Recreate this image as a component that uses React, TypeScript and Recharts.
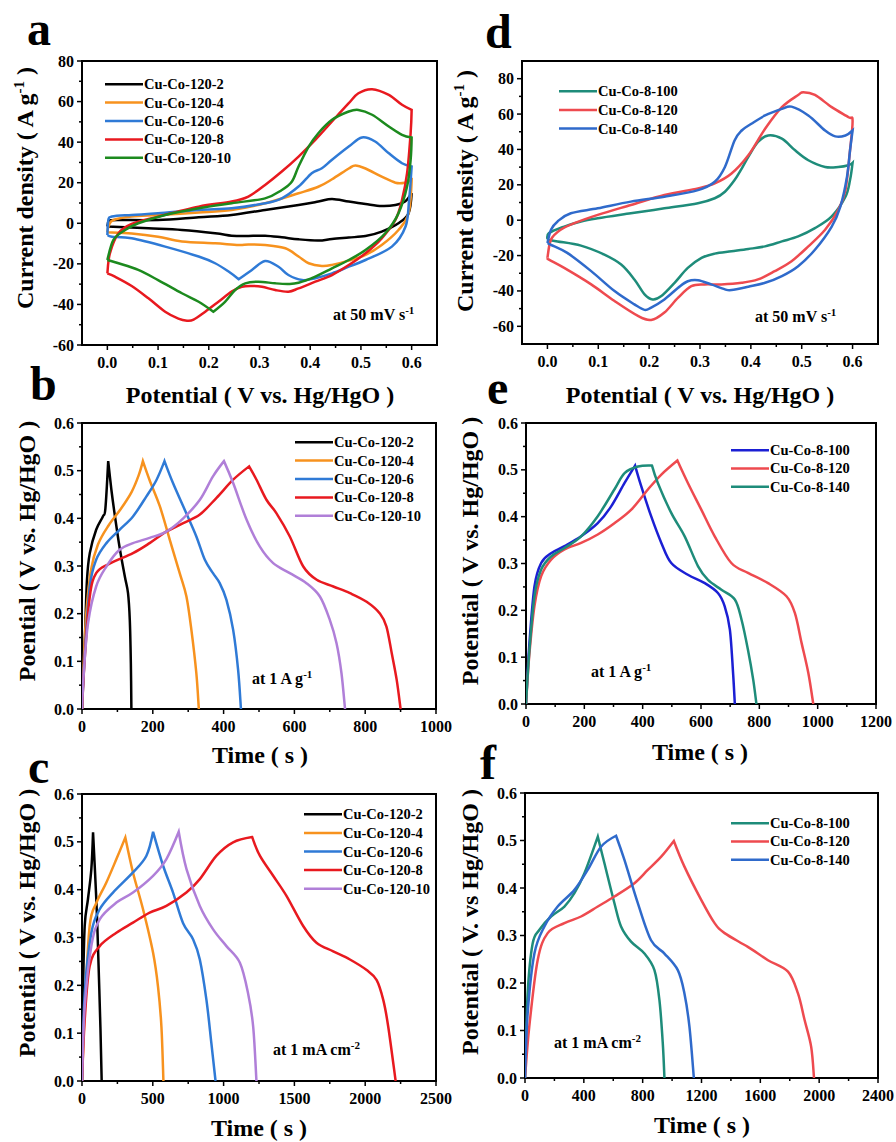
import React from 'react';
import { LineChart, Line, XAxis, YAxis, Legend, ReferenceArea } from 'recharts';

type Pt = [number, number];

// ---------- (a) CV of Cu-Co-120 samples at 50 mV s-1 (x: V, y: A g-1) ----------
const cv120_2: Pt[] = [
  [0, -1.6], [0.002, 1.2], [0.02, 1.6], [0.1, 1.6], [0.18, 3], [0.245, 4.1], [0.311, 6.6], [0.377, 9],
  [0.416, 10.7], [0.443, 12], [0.476, 10.7], [0.509, 9.5], [0.541, 8.5], [0.568, 9], [0.587, 10.7], [0.6, 14.8],
  [0.594, 5], [0.574, 0], [0.541, -4.1], [0.509, -6.3], [0.476, -7], [0.443, -7.7], [0.416, -8.5], [0.377, -7.9],
  [0.344, -6.9], [0.311, -6.1], [0.272, -6.3], [0.245, -6.1], [0.2125, -4.9], [0.147, -3.3], [0.081, -2.5], [0, -1.6],
];
const cv120_4: Pt[] = [
  [0, -4.4], [0.003, -1], [0.012, 1.6], [0.048, 3.3], [0.1, 4.1], [0.18, 5.3], [0.245, 6.6], [0.311, 9.9],
  [0.377, 14.8], [0.416, 18], [0.443, 21.7], [0.476, 27], [0.489, 28.5], [0.509, 27], [0.541, 23], [0.568, 20],
  [0.587, 20], [0.6, 21.4], [0.594, 5], [0.574, -3.3], [0.541, -10.7], [0.509, -15.6], [0.476, -18.4], [0.443, -20.5],
  [0.423, -21], [0.397, -19.7], [0.377, -16.4], [0.351, -12.3], [0.311, -10.7], [0.278, -10.4], [0.259, -10.7],
  [0.2125, -9.9], [0.147, -9], [0.1, -6.6], [0.048, -5], [0, -4.4],
];
const cv120_6: Pt[] = [
  [0, -5.8], [0.002, 1.6], [0.009, 3.3], [0.048, 4.1], [0.1, 4.9], [0.18, 6.6], [0.245, 7.4], [0.311, 9.9],
  [0.344, 12.3], [0.377, 18.1], [0.403, 24.7], [0.423, 27.1], [0.443, 31.3], [0.476, 37.8], [0.502, 42.3],
  [0.528, 40.3], [0.555, 34.5], [0.581, 29.6], [0.6, 28], [0.595, 11.5], [0.588, -1.6], [0.561, -11.5],
  [0.509, -18.1], [0.476, -21.4], [0.443, -24.7], [0.41, -27.1], [0.384, -28], [0.357, -25.5], [0.3375, -21.4],
  [0.311, -18.6], [0.285, -23], [0.259, -27.6], [0.239, -23.8], [0.2125, -19.7], [0.18, -16.4], [0.114, -11.5],
  [0.048, -7.4], [0.009, -6.6], [0, -5.8],
];
const cv120_8: Pt[] = [
  [0, -24.7], [0.005, -14.8], [0.022, -4.9], [0.048, -0.3], [0.1, 3.3], [0.18, 8.2], [0.245, 10.7], [0.278, 13.2],
  [0.311, 18.9], [0.344, 25.5], [0.377, 32.9], [0.41, 41.1], [0.443, 50.2], [0.476, 59.2], [0.495, 64.1],
  [0.522, 66.1], [0.555, 63.3], [0.581, 58.4], [0.6, 55.9], [0.598, 44.4], [0.591, 24.7], [0.581, 11.5],
  [0.568, 1.6], [0.541, -7.4], [0.509, -14.8], [0.476, -20.6], [0.443, -25.5], [0.41, -28.8], [0.377, -32.1],
  [0.357, -33.7], [0.331, -32.9], [0.305, -31.3], [0.285, -30.9], [0.265, -31.3], [0.245, -33.7], [0.219, -38.7],
  [0.193, -43.6], [0.17, -47.5], [0.157, -48], [0.14, -47], [0.114, -43.6], [0.081, -37], [0.048, -30.9],
  [0.015, -26.3], [0, -24.7],
];
const cv120_10: Pt[] = [
  [0, -18.1], [0.012, -8.2], [0.035, -3.3], [0.061, 0], [0.114, 4.1], [0.18, 7.4], [0.245, 9.9], [0.311, 12.3],
  [0.344, 16.4], [0.364, 20.6], [0.377, 28], [0.397, 37.8], [0.416, 44.4], [0.443, 51], [0.476, 55.1],
  [0.495, 55.9], [0.522, 53.5], [0.555, 47.7], [0.581, 43.6], [0.6, 42.3], [0.598, 31.3], [0.591, 18.1],
  [0.574, 4.9], [0.548, -4.9], [0.509, -13.2], [0.476, -18.1], [0.443, -22.2], [0.41, -26.3], [0.377, -29.3],
  [0.357, -29.9], [0.331, -29.6], [0.298, -28.8], [0.272, -29.6], [0.252, -32.9], [0.232, -38.7], [0.209, -43.6],
  [0.18, -38.7], [0.147, -34.5], [0.1, -28], [0.061, -23], [0.022, -19.7], [0, -18.1],
];

// ---------- (d) CV of Cu-Co-8 samples at 50 mV s-1 ----------
const cv8_100: Pt[] = [
  [0, -11], [0.003, -7.3], [0.033, -3.6], [0.066, -0.7], [0.099, 1.1], [0.164, 3.9], [0.23, 6.7], [0.296, 9.6],
  [0.329, 12.4], [0.349, 16.1], [0.368, 22.7], [0.382, 29.2], [0.395, 35.8], [0.414, 44.2], [0.434, 47.9],
  [0.461, 46.1], [0.487, 39.5], [0.513, 33.9], [0.546, 30.1], [0.572, 30.1], [0.592, 31.1], [0.6, 32.4],
  [0.595, 22.7], [0.586, 13.3], [0.559, 2.1], [0.526, -4.5], [0.493, -9.2], [0.461, -12], [0.428, -14.8],
  [0.395, -16.3], [0.362, -17.6], [0.329, -18.9], [0.303, -21.3], [0.276, -27], [0.25, -35.4], [0.224, -42.9],
  [0.207, -44.8], [0.191, -41.9], [0.171, -33.5], [0.145, -25.1], [0.112, -19.5], [0.066, -14.4], [0.02, -12], [0, -11],
];
const cv8_120: Pt[] = [
  [0, -21.3], [0.007, -11], [0.026, -5.4], [0.053, -1.7], [0.099, 3], [0.164, 8.6], [0.23, 14.2], [0.296, 18],
  [0.329, 20.8], [0.362, 26.4], [0.395, 36.7], [0.428, 51.7], [0.461, 63.9], [0.493, 70.8], [0.503, 72.3],
  [0.526, 70.8], [0.559, 63.9], [0.592, 58.2], [0.6, 56.4], [0.595, 39.5], [0.586, 17], [0.572, 5.8], [0.546, -5.4],
  [0.513, -14.8], [0.48, -23.2], [0.447, -28.8], [0.414, -33.5], [0.382, -35.4], [0.342, -36.3], [0.309, -36.3],
  [0.283, -37.3], [0.257, -43.8], [0.23, -52.2], [0.204, -56.4], [0.178, -54.1], [0.132, -45.7], [0.086, -36.3],
  [0.033, -27], [0.003, -22.3], [0, -21.3],
];
const cv8_140: Pt[] = [
  [0, -12.9], [0.007, -5.4], [0.02, -0.7], [0.046, 3.9], [0.099, 6.7], [0.164, 10.5], [0.23, 13.3], [0.296, 17],
  [0.329, 21.7], [0.349, 30.1], [0.368, 45.1], [0.382, 50.7], [0.401, 54.5], [0.428, 59.2], [0.461, 62.9],
  [0.48, 64.2], [0.513, 59.2], [0.546, 50.7], [0.566, 47.4], [0.586, 47.9], [0.6, 50.7], [0.595, 39.5],
  [0.589, 24.5], [0.576, 7.7], [0.559, -3.6], [0.526, -16.7], [0.493, -26], [0.461, -31.6], [0.428, -35.4],
  [0.395, -37.6], [0.362, -39.5], [0.349, -39.1], [0.322, -36.3], [0.296, -33.9], [0.276, -34.5], [0.257, -38.2],
  [0.23, -44.8], [0.204, -49.4], [0.191, -50.7], [0.171, -47.6], [0.132, -40.1], [0.086, -28.8], [0.039, -18.5],
  [0.007, -13.9], [0, -12.9],
];

// ---------- (b) GCD of Cu-Co-120 samples at 1 A g-1 (x: s, y: V) ----------
const gcdA120_2: Pt[] = [
  [0, 0], [3, 0.06], [8, 0.145], [14, 0.27], [22, 0.327], [40, 0.376], [59, 0.404], [66, 0.42], [74, 0.52],
  [83, 0.46], [92, 0.41], [106, 0.34], [121, 0.278], [130, 0.243], [135, 0.187], [138, 0.096], [139.5, 0],
];
const gcdA120_4: Pt[] = [
  [0, 0], [5, 0.1], [12, 0.2], [25, 0.29], [45, 0.345], [75, 0.385], [110, 0.42], [140, 0.455], [160, 0.49],
  [172, 0.52], [191, 0.48], [220, 0.425], [248, 0.355], [276, 0.285], [295, 0.236], [309, 0.166], [323, 0.075], [330, 0],
];
const gcdA120_6: Pt[] = [
  [0, 0], [8, 0.117], [22, 0.257], [40, 0.313], [69, 0.348], [106, 0.376], [144, 0.404], [182, 0.446], [210, 0.48],
  [233, 0.52], [257, 0.474], [295, 0.41], [323, 0.362], [347, 0.313], [370, 0.285], [389, 0.264], [408, 0.229],
  [427, 0.166], [441, 0.082], [449, 0],
];
const gcdA120_8: Pt[] = [
  [0, 0], [8, 0.11], [22, 0.236], [40, 0.285], [78, 0.305], [144, 0.327], [191, 0.348], [238, 0.372], [286, 0.39],
  [333, 0.408], [380, 0.443], [427, 0.481], [472, 0.509], [493, 0.481], [521, 0.439], [549, 0.411], [587, 0.362],
  [625, 0.299], [663, 0.271], [710, 0.257], [757, 0.243], [804, 0.225], [842, 0.2], [860, 0.173], [875, 0.117],
  [889, 0.061], [900, 0],
];
const gcdA120_10: Pt[] = [
  [0, 0], [5, 0.075], [17, 0.18], [40, 0.257], [69, 0.299], [106, 0.334], [144, 0.348], [191, 0.359], [238, 0.372],
  [286, 0.4], [333, 0.439], [370, 0.488], [401, 0.52], [427, 0.474], [465, 0.397], [502, 0.341], [540, 0.306],
  [587, 0.285], [634, 0.264], [672, 0.236], [700, 0.187], [719, 0.138], [733, 0.075], [743, 0],
];

// ---------- (c) GCD of Cu-Co-120 samples at 1 mA cm-2 ----------
const gcdM120_2: Pt[] = [
  [0, 0], [7, 0.183], [19, 0.324], [42, 0.38], [66, 0.443], [78, 0.52], [101, 0.38], [113, 0.28], [130, 0.113], [139, 0],
];
const gcdM120_4: Pt[] = [
  [0, 0], [19, 0.148], [54, 0.324], [101, 0.372], [172, 0.415], [243, 0.464], [306, 0.509], [360, 0.436],
  [431, 0.359], [502, 0.268], [537, 0.197], [561, 0.113], [575, 0],
];
const gcdM120_6: Pt[] = [
  [0, 0], [19, 0.183], [66, 0.31], [125, 0.359], [219, 0.394], [360, 0.436], [455, 0.471], [502, 0.521],
  [573, 0.45], [643, 0.394], [714, 0.33], [785, 0.296], [832, 0.254], [879, 0.169], [914, 0.078], [943, 0],
];
const gcdM120_8: Pt[] = [
  [0, 0], [19, 0.127], [54, 0.24], [125, 0.282], [243, 0.31], [360, 0.331], [478, 0.352], [596, 0.366],
  [737, 0.394], [832, 0.422], [950, 0.471], [1067, 0.499], [1202, 0.51], [1256, 0.471], [1350, 0.429],
  [1444, 0.387], [1562, 0.324], [1656, 0.289], [1774, 0.271], [1892, 0.254], [2010, 0.232], [2081, 0.211],
  [2128, 0.169], [2163, 0.113], [2215, 0],
];
const gcdM120_10: Pt[] = [
  [0, 0], [19, 0.155], [66, 0.282], [125, 0.338], [243, 0.373], [360, 0.394], [502, 0.429], [596, 0.464],
  [683, 0.521], [738, 0.443], [832, 0.366], [926, 0.317], [1020, 0.282], [1115, 0.247], [1173, 0.183],
  [1209, 0.113], [1232, 0],
];

// ---------- (e) GCD of Cu-Co-8 samples at 1 A g-1 ----------
const gcdA8_100: Pt[] = [
  [0, 0], [11, 0.123], [29, 0.251], [52, 0.301], [86, 0.322], [132, 0.337], [189, 0.358], [246, 0.386],
  [292, 0.422], [338, 0.472], [374, 0.509], [395, 0.465], [429, 0.401], [464, 0.344], [498, 0.301], [555, 0.276],
  [613, 0.258], [658, 0.237], [681, 0.209], [699, 0.159], [710, 0.066], [716, 0],
];
const gcdA8_120: Pt[] = [
  [0, 0], [11, 0.102], [29, 0.209], [52, 0.273], [86, 0.308], [132, 0.33], [189, 0.344], [246, 0.362],
  [303, 0.386], [361, 0.415], [418, 0.458], [464, 0.49], [519, 0.52], [555, 0.472], [601, 0.415], [647, 0.358],
  [704, 0.301], [761, 0.28], [830, 0.258], [893, 0.23], [922, 0.194], [945, 0.13], [968, 0.066], [985, 0],
];
const gcdA8_140: Pt[] = [
  [0, 0], [11, 0.109], [29, 0.23], [52, 0.287], [86, 0.315], [132, 0.333], [189, 0.358], [246, 0.401],
  [303, 0.458], [338, 0.493], [384, 0.507], [432, 0.509], [452, 0.472], [498, 0.408], [544, 0.358], [590, 0.294],
  [624, 0.265], [670, 0.244], [716, 0.223], [739, 0.18], [761, 0.116], [779, 0.052], [790, 0],
];

// ---------- (f) GCD of Cu-Co-8 samples at 1 mA cm-2 ----------
const gcdM8_100: Pt[] = [
  [0, 0], [18, 0.178], [52, 0.283], [98, 0.312], [177, 0.34], [268, 0.361], [336, 0.389], [404, 0.431],
  [495, 0.508], [540, 0.452], [608, 0.368], [653, 0.319], [721, 0.287], [812, 0.262], [880, 0.227], [914, 0.164],
  [937, 0.072], [948, 0],
];
const gcdM8_120: Pt[] = [
  [0, 0], [29, 0.108], [86, 0.248], [154, 0.305], [268, 0.326], [381, 0.34], [495, 0.361], [608, 0.382],
  [744, 0.41], [835, 0.438], [926, 0.466], [1012, 0.499], [1084, 0.445], [1198, 0.375], [1289, 0.326],
  [1357, 0.305], [1515, 0.276], [1652, 0.248], [1788, 0.224], [1856, 0.178], [1901, 0.122], [1946, 0.065], [1965, 0],
];
const gcdM8_140: Pt[] = [
  [0, 0], [18, 0.136], [64, 0.262], [132, 0.319], [222, 0.361], [336, 0.396], [426, 0.438], [517, 0.487],
  [619, 0.51], [676, 0.459], [767, 0.368], [857, 0.29], [948, 0.262], [1039, 0.227], [1084, 0.178],
  [1118, 0.108], [1148, 0],
];

// ---------- tick values ----------
const cvXMajor = [0, 0.1, 0.2, 0.3, 0.4, 0.5, 0.6];
const cvXMinor = [0.05, 0.15, 0.25, 0.35, 0.45, 0.55];
const cvYMajor = [-60, -40, -20, 0, 20, 40, 60, 80];
const cvYMinor = [-50, -30, -10, 10, 30, 50, 70];
const vMajor = [0, 0.1, 0.2, 0.3, 0.4, 0.5, 0.6];
const vMinor = [0.05, 0.15, 0.25, 0.35, 0.45, 0.55];
const tMajorB = [0, 200, 400, 600, 800, 1000];
const tMinorB = [100, 300, 500, 700, 900];
const tMajorC = [0, 500, 1000, 1500, 2000, 2500];
const tMinorC = [250, 750, 1250, 1750, 2250];
const tMajorE = [0, 200, 400, 600, 800, 1000, 1200];
const tMinorE = [100, 300, 500, 700, 900, 1100];
const tMajorF = [0, 400, 800, 1200, 1600, 2000, 2400];
const tMinorF = [200, 600, 1000, 1400, 1800, 2200];

const names120 = ['Cu-Co-120-2', 'Cu-Co-120-4', 'Cu-Co-120-6', 'Cu-Co-120-8', 'Cu-Co-120-10'];
const names8 = ['Cu-Co-8-100', 'Cu-Co-8-120', 'Cu-Co-8-140'];

const FONT = "'Liberation Serif', 'Times New Roman', Times, serif";
const BLACK = '#000000';
const ORANGE = '#F7921E';
const BLUE = '#2F7AD6';
const RED = '#E8191F';
const GREEN = '#1C8A1E';
const VIOLET = '#B07FD8';
const TEAL = '#1E8C7A';
const SOFT_RED = '#EE4A4F';
const MID_BLUE = '#2F6ACB';
const DEEP_BLUE = '#1B1FD4';

// Catmull-Rom style curve through every point; sharp turns (e.g. the end of a
// charge step or a potential reversal) are kept as corners.
function drawSmooth(ctx: any, raw: number[][]) {
  const p = raw.filter((q, i) => i === 0 || q[0] !== raw[i - 1][0] || q[1] !== raw[i - 1][1]);
  if (!p.length) return;
  ctx.moveTo(p[0][0], p[0][1]);
  if (p.length < 2) return;
  const limit = Math.cos((60 * Math.PI) / 180);
  const corner = p.map((q, i) => {
    if (i === 0 || i === p.length - 1) return false;
    const ax = q[0] - p[i - 1][0];
    const ay = q[1] - p[i - 1][1];
    const bx = p[i + 1][0] - q[0];
    const by = p[i + 1][1] - q[1];
    const la = Math.hypot(ax, ay);
    const lb = Math.hypot(bx, by);
    if (!la || !lb) return false;
    return (ax * bx + ay * by) / (la * lb) < limit;
  });
  const tangent = (i: number) => {
    if (corner[i]) return [0, 0];
    const a = p[i - 1] || p[i];
    const b = p[i + 1] || p[i];
    return [(b[0] - a[0]) / 6, (b[1] - a[1]) / 6];
  };
  for (let i = 0; i < p.length - 1; i++) {
    const t1 = tangent(i);
    const t2 = tangent(i + 1);
    ctx.bezierCurveTo(
      p[i][0] + t1[0], p[i][1] + t1[1],
      p[i + 1][0] - t2[0], p[i + 1][1] - t2[1],
      p[i + 1][0], p[i + 1][1],
    );
  }
}

function smoothCurve(context: any) {
  let pts: number[][] = [];
  return {
    areaStart() {},
    areaEnd() {},
    lineStart() { pts = []; },
    lineEnd() { drawSmooth(context, pts); },
    point(x: number, y: number) { pts.push([+x, +y]); },
  };
}

const toRows = (pts: Pt[]) => pts.map(([x, y]) => ({ x, y }));

interface Series { name: string; color: string; points: Pt[] }
interface Box { left: number; top: number; right: number; bottom: number }

interface PanelProps {
  box: Box;
  xDomain: [number, number];
  yDomain: [number, number];
  xMajor: number[];
  xMinor: number[];
  yMajor: number[];
  yMinor: number[];
  xDigits: number;
  yDigits: number;
  series: Series[];
  legendX: number;
  legendY: number;
  legendRow: number;
}

const PADL = 70;
const PADT = 12;
const PADR = 24;
const PADB = 34;

const isIn = (v: number, list: number[]) => list.some((m) => Math.abs(m - v) < 1e-9);

function Panel(props: PanelProps) {
  const { box, xDomain, yDomain, xMajor, xMinor, yMajor, yMinor, xDigits, yDigits, series, legendX, legendY, legendRow } = props;
  const width = box.right - box.left + PADL + PADR;
  const height = box.bottom - box.top + PADT + PADB;
  const cl = box.left - PADL;
  const ct = box.top - PADT;
  const xTicks = [...xMajor, ...xMinor].sort((a, b) => a - b);
  const yTicks = [...yMajor, ...yMinor].sort((a, b) => a - b);
  const order = series.map((s) => s.name);

  const xTick = (p: any) => {
    const v = p.payload.value;
    const major = isIn(v, xMajor);
    return (
      <g>
        <line x1={p.x} y1={p.y} x2={p.x} y2={p.y + (major ? 5 : 3)} stroke="#000" strokeWidth={1.5} />
        {major && (
          <text x={p.x} y={p.y + 23} textAnchor="middle" fontFamily={FONT} fontWeight="bold" fontSize={16} fill="#000">
            {v.toFixed(xDigits)}
          </text>
        )}
      </g>
    );
  };
  const yTick = (p: any) => {
    const v = p.payload.value;
    const major = isIn(v, yMajor);
    return (
      <g>
        <line x1={p.x - (major ? 5 : 3)} y1={p.y} x2={p.x} y2={p.y} stroke="#000" strokeWidth={1.5} />
        {major && (
          <text x={p.x - 8} y={p.y + 5.5} textAnchor="end" fontFamily={FONT} fontWeight="bold" fontSize={16} fill="#000">
            {v.toFixed(yDigits)}
          </text>
        )}
      </g>
    );
  };

  const legendContent = (lp: any) => {
    const items = [...(lp.payload || [])].sort((a: any, b: any) => order.indexOf(a.value) - order.indexOf(b.value));
    return (
      <svg width={200} height={items.length * legendRow} style={{ display: 'block', overflow: 'visible' }}>
        {items.map((it: any, i: number) => {
          const cy = legendRow / 2 + i * legendRow;
          return (
            <g key={it.value}>
              <line x1={0} y1={cy} x2={38} y2={cy} stroke={it.color} strokeWidth={2.5} />
              <text x={39} y={cy + 5} fontFamily={FONT} fontWeight="bold" fontSize={14.5} fill="#000">
                {it.value}
              </text>
            </g>
          );
        })}
      </svg>
    );
  };

  return (
    <div style={{ position: 'absolute', left: cl, top: ct }}>
      <LineChart width={width} height={height} margin={{ top: PADT, right: PADR, bottom: 0, left: 0 }}>
        <XAxis
          type="number"
          dataKey="x"
          domain={xDomain}
          allowDataOverflow
          ticks={xTicks}
          interval={0}
          tickSize={0}
          tickMargin={0}
          height={PADB}
          axisLine={false}
          tickLine={false}
          tick={xTick}
        />
        <YAxis
          type="number"
          dataKey="y"
          domain={yDomain}
          allowDataOverflow
          ticks={yTicks}
          interval={0}
          tickSize={0}
          tickMargin={0}
          width={PADL}
          axisLine={false}
          tickLine={false}
          tick={yTick}
        />
        {series.map((s) => (
          <Line
            key={s.name}
            name={s.name}
            data={toRows(s.points)}
            dataKey="y"
            type={smoothCurve as any}
            stroke={s.color}
            strokeWidth={2.5}
            dot={false}
            activeDot={false}
            isAnimationActive={false}
          />
        ))}
        <ReferenceArea
          x1={xDomain[0]}
          x2={xDomain[1]}
          y1={yDomain[0]}
          y2={yDomain[1]}
          fill="none"
          fillOpacity={0}
          stroke="#000"
          strokeWidth={2}
          ifOverflow="visible"
        />
        <Legend
          layout="horizontal"
          verticalAlign="middle"
          align="center"
          itemSorter={null as any}
          content={legendContent}
          wrapperStyle={{
            left: legendX - cl,
            top: legendY - ct - legendRow / 2,
            width: 200,
            height: series.length * legendRow,
          }}
        />
      </LineChart>
    </div>
  );
}

const series120 = (data: Pt[][], colors: string[]): Series[] =>
  names120.map((name, i) => ({ name, color: colors[i], points: data[i] }));
const series8 = (data: Pt[][], colors: string[]): Series[] =>
  names8.map((name, i) => ({ name, color: colors[i], points: data[i] }));

const txt = { fontFamily: FONT, fontWeight: 'bold' as const, fill: '#000' };

function Texts() {
  return (
    <svg width={896} height={1142} style={{ position: 'absolute', left: 0, top: 0, pointerEvents: 'none' }}>
      {/* panel letters */}
      <text x={27} y={45} fontSize={48} {...txt}>a</text>
      <text x={485} y={48} fontSize={48} {...txt}>d</text>
      <text x={30} y={400} fontSize={48} {...txt}>b</text>
      <text x={487} y={404} fontSize={48} {...txt}>e</text>
      <text x={28} y={783} fontSize={48} {...txt}>c</text>
      <text x={480} y={779} fontSize={48} {...txt}>f</text>

      {/* x-axis titles */}
      <text x={260} y={403} fontSize={24} textAnchor="middle" {...txt}>Potential ( V vs. Hg/HgO )</text>
      <text x={700} y={403} fontSize={24} textAnchor="middle" {...txt}>Potential ( V vs. Hg/HgO )</text>
      <text x={260} y={763} fontSize={24} textAnchor="middle" {...txt}>Time ( s )</text>
      <text x={700} y={760} fontSize={24} textAnchor="middle" {...txt}>Time ( s )</text>
      <text x={259} y={1136} fontSize={24} textAnchor="middle" {...txt}>Time ( s )</text>
      <text x={702} y={1133} fontSize={24} textAnchor="middle" {...txt}>Time ( s )</text>

      {/* y-axis titles */}
      <text x={33} y={188} fontSize={24} textAnchor="middle" transform="rotate(-90 33 188)" {...txt}>
        Current density ( A g<tspan dy={-9} fontSize={15}>-1</tspan><tspan dy={9}> )</tspan>
      </text>
      <text x={473} y={191} fontSize={24} textAnchor="middle" transform="rotate(-90 473 191)" {...txt}>
        Current density ( A g<tspan dy={-9} fontSize={15}>-1</tspan><tspan dy={9}> )</tspan>
      </text>
      <text x={35} y={551} fontSize={24} textAnchor="middle" transform="rotate(-90 35 551)" {...txt}>
        Poential ( V vs. Hg/HgO )
      </text>
      <text x={478} y={551} fontSize={24} textAnchor="middle" transform="rotate(-90 478 551)" {...txt}>
        Potential ( V vs. Hg/HgO )
      </text>
      <text x={35} y={923} fontSize={24} textAnchor="middle" transform="rotate(-90 35 923)" {...txt}>
        Potential ( V vs. Hg/HgO )
      </text>
      <text x={478} y={922} fontSize={24} textAnchor="middle" transform="rotate(-90 478 922)" {...txt}>
        Potential ( V. vs Hg/HgO )
      </text>

      {/* test conditions */}
      <text x={333} y={320} fontSize={16} {...txt}>
        at 50 mV s<tspan dy={-6} fontSize={11}>-1</tspan>
      </text>
      <text x={755} y={322} fontSize={16} {...txt}>
        at 50 mV s<tspan dy={-6} fontSize={11}>-1</tspan>
      </text>
      <text x={252} y={684} fontSize={16} {...txt}>
        at 1 A g<tspan dy={-6} fontSize={11}>-1</tspan>
      </text>
      <text x={591} y={677} fontSize={16} {...txt}>
        at 1 A g<tspan dy={-6} fontSize={11}>-1</tspan>
      </text>
      <text x={273} y={1055} fontSize={16} {...txt}>
        at 1 mA cm<tspan dy={-6} fontSize={11}>-2</tspan>
      </text>
      <text x={554} y={1048} fontSize={16} {...txt}>
        at 1 mA cm<tspan dy={-6} fontSize={11}>-2</tspan>
      </text>
    </svg>
  );
}

export default function App() {
  return (
    <div style={{ position: 'absolute', left: 0, top: 0, width: 896, height: 1142, background: '#fff', overflow: 'hidden' }}>
      <Panel
        box={{ left: 82, top: 61, right: 437, bottom: 345 }}
        xDomain={[-0.05, 0.65]}
        yDomain={[-60, 80]}
        xMajor={cvXMajor}
        xMinor={cvXMinor}
        yMajor={cvYMajor}
        yMinor={cvYMinor}
        xDigits={1}
        yDigits={0}
        series={series120([cv120_2, cv120_4, cv120_6, cv120_8, cv120_10], [BLACK, ORANGE, BLUE, RED, GREEN])}
        legendX={105}
        legendY={84}
        legendRow={18.4}
      />
      <Panel
        box={{ left: 522, top: 61, right: 878, bottom: 344 }}
        xDomain={[-0.05, 0.65]}
        yDomain={[-70, 90]}
        xMajor={cvXMajor}
        xMinor={cvXMinor}
        yMajor={cvYMajor}
        yMinor={cvYMinor}
        xDigits={1}
        yDigits={0}
        series={series8([cv8_100, cv8_120, cv8_140], [TEAL, SOFT_RED, MID_BLUE])}
        legendX={559}
        legendY={91}
        legendRow={18.6}
      />
      <Panel
        box={{ left: 82, top: 423, right: 436, bottom: 709 }}
        xDomain={[0, 1000]}
        yDomain={[0, 0.6]}
        xMajor={tMajorB}
        xMinor={tMinorB}
        yMajor={vMajor}
        yMinor={vMinor}
        xDigits={0}
        yDigits={1}
        series={series120([gcdA120_2, gcdA120_4, gcdA120_6, gcdA120_8, gcdA120_10], [BLACK, ORANGE, BLUE, RED, VIOLET])}
        legendX={295}
        legendY={442.3}
        legendRow={18.4}
      />
      <Panel
        box={{ left: 526, top: 423, right: 876, bottom: 704 }}
        xDomain={[0, 1200]}
        yDomain={[0, 0.6]}
        xMajor={tMajorE}
        xMinor={tMinorE}
        yMajor={vMajor}
        yMinor={vMinor}
        xDigits={0}
        yDigits={1}
        series={series8([gcdA8_100, gcdA8_120, gcdA8_140], [DEEP_BLUE, SOFT_RED, TEAL])}
        legendX={731}
        legendY={450}
        legendRow={18.3}
      />
      <Panel
        box={{ left: 82, top: 794, right: 436, bottom: 1081 }}
        xDomain={[0, 2500]}
        yDomain={[0, 0.6]}
        xMajor={tMajorC}
        xMinor={tMinorC}
        yMajor={vMajor}
        yMinor={vMinor}
        xDigits={0}
        yDigits={1}
        series={series120([gcdM120_2, gcdM120_4, gcdM120_6, gcdM120_8, gcdM120_10], [BLACK, ORANGE, BLUE, RED, VIOLET])}
        legendX={304}
        legendY={814}
        legendRow={18.6}
      />
      <Panel
        box={{ left: 525, top: 793, right: 878, bottom: 1078 }}
        xDomain={[0, 2400]}
        yDomain={[0, 0.6]}
        xMajor={tMajorF}
        xMinor={tMinorF}
        yMajor={vMajor}
        yMinor={vMinor}
        xDigits={0}
        yDigits={1}
        series={series8([gcdM8_100, gcdM8_120, gcdM8_140], [TEAL, SOFT_RED, MID_BLUE])}
        legendX={731}
        legendY={822.7}
        legendRow={18.3}
      />
      <Texts />
    </div>
  );
}
